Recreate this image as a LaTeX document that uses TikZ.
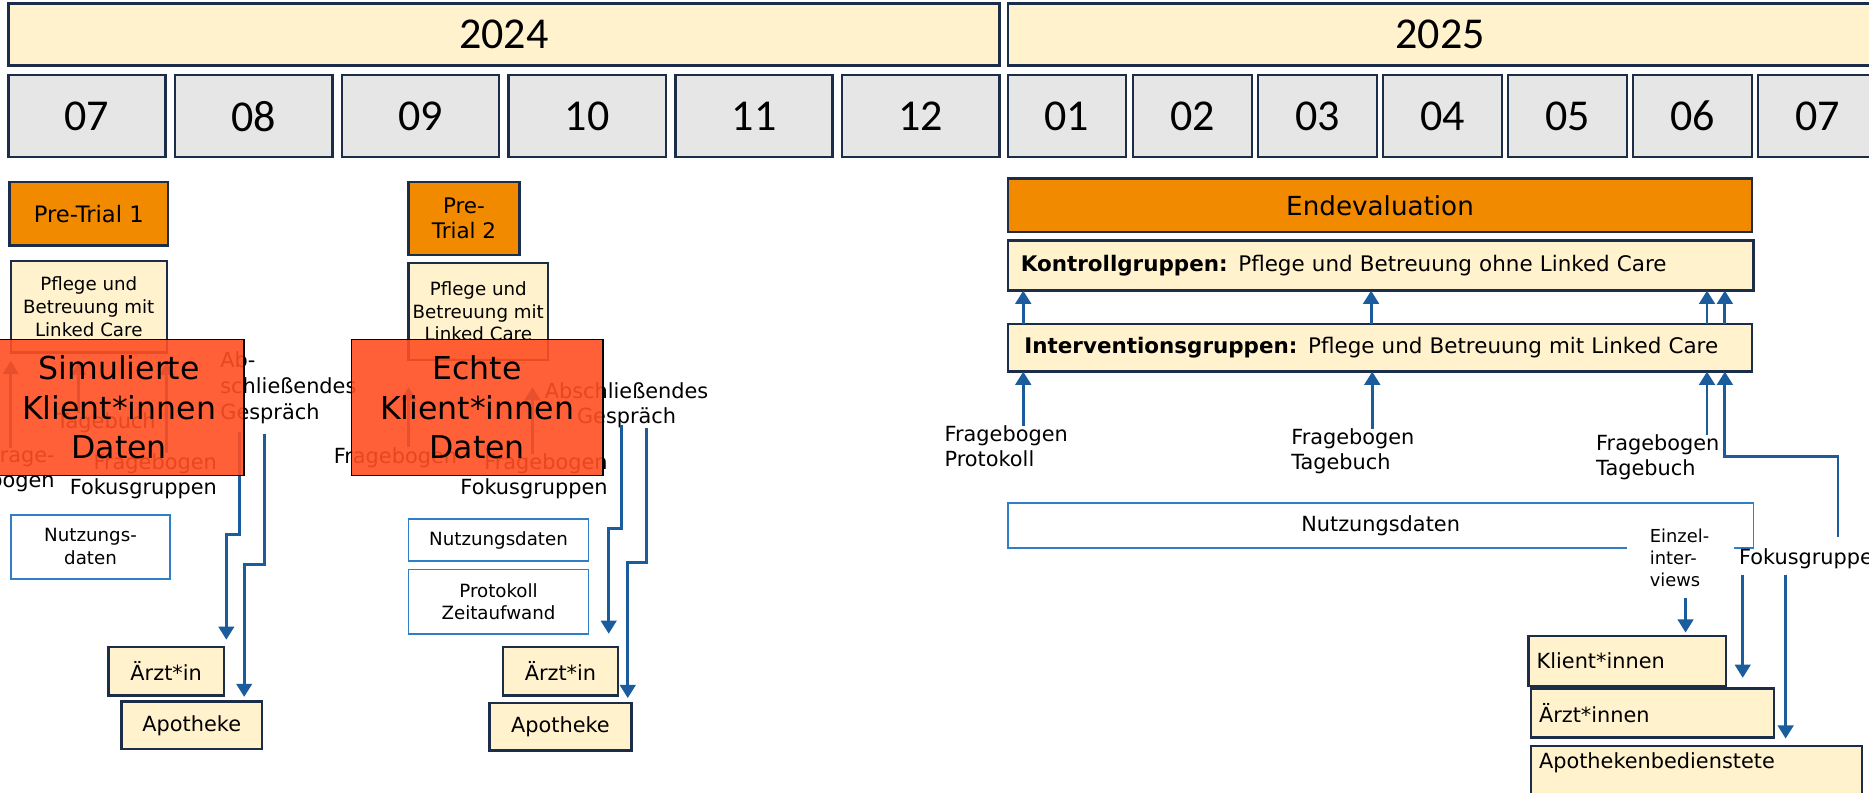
\documentclass[tikz,border=0pt]{standalone}
\usepackage{fontspec}
\setmainfont{DejaVu Sans}
\newfontfamily\carl{Carlito}
\usetikzlibrary{arrows.meta,calc}
\definecolor{navy}{HTML}{1C2D4A}
\definecolor{lyel}{HTML}{FFF2CC}
\definecolor{lgrey}{HTML}{E6E6E6}
\definecolor{orng}{HTML}{F28A00}
\definecolor{redb}{HTML}{FF4F22}
\definecolor{blu}{HTML}{1A5C9C}
\definecolor{blub}{HTML}{2F7EC6}
\newcommand\fbody{\fontsize{17.5}{21}\selectfont}
\newcommand\fsm{\fontsize{15.3}{19}\selectfont}
\newcommand\fbig{\fontsize{26.5}{33}\selectfont}
\newcommand\fhd{\carl\fontsize{37}{40}\selectfont}
\begin{document}
\begin{tikzpicture}[x=1pt,y=-1pt,
  nbox/.style={draw=navy,line width=2pt,inner sep=0pt,outer sep=0pt},
  yr/.style={nbox,fill=lyel,font=\fhd,minimum height=52pt},
  mon/.style={nbox,fill=lgrey,font=\fhd,minimum height=69pt},
  orb/.style={nbox,fill=orng,font=\fbody,align=center},
  ylb/.style={nbox,fill=lyel,font=\fbody,align=center},
  tbox/.style={draw=blub,line width=1.5pt,fill=white,inner sep=0pt,outer sep=0pt,font=\fsm,align=center},
  lab/.style={inner sep=0pt,outer sep=0pt,font=\fbody},
  arr/.style={draw=blu,line width=2.4pt,-{Triangle[length=11pt,width=13pt]}},
  redbox/.style={draw=black,line width=1.3pt,fill=redb,fill opacity=0.9,text opacity=1,draw opacity=1,font=\fbig,align=center,inner sep=0pt,outer sep=0pt}
]
\fill[white] (0,0) rectangle (1569,665);
\useasboundingbox (0,0) rectangle (1569,665);

% years
\node[yr,minimum width=832pt] (y24) at (423,29) {2024};
\node[yr,minimum width=726pt] (y25) at (1209,29) {2025};
% months
\node[mon,minimum width=132pt] (m07) at (73,97.5) {07};
\node[mon,minimum width=132pt] (m08) at (213,97.5) {08};
\node[mon,minimum width=132pt] (m09) at (353,97.5) {09};
\node[mon,minimum width=132pt] (m10) at (493,97.5) {10};
\node[mon,minimum width=132pt] (m11) at (633,97.5) {11};
\node[mon,minimum width=132pt] (m12) at (773,97.5) {12};
\node[mon,minimum width=99pt] (n01) at (895.5,97.5) {01};
\node[mon,minimum width=100pt] (n02) at (1001,97.5) {02};
\node[mon,minimum width=100pt] (n03) at (1106,97.5) {03};
\node[mon,minimum width=100pt] (n04) at (1211,97.5) {04};
\node[mon,minimum width=100pt] (n05) at (1316,97.5) {05};
\node[mon,minimum width=100pt] (n06) at (1421,97.5) {06};
\node[mon,minimum width=100pt] (n07) at (1526,97.5) {07};

% left section
\node[orb,font=\fontsize{19}{22}\selectfont,minimum width=133pt,minimum height=53pt] (pt1) at (74.5,179.5) {Pre-Trial 1};
\node[ylb,font=\fsm,minimum width=131pt,minimum height=77pt] (pf1) at (74.5,257.5) {Pflege und\\Betreuung mit\\Linked Care};
\node[tbox,minimum width=134pt,minimum height=54pt] (nu1) at (76,459) {Nutzungs-\\daten};
\node[ylb,minimum width=97pt,minimum height=41pt] (a1) at (139.5,563.5) {Ärzt*in};
\node[ylb,minimum width=118pt,minimum height=40pt] (p1) at (161,609) {Apotheke};

\node[lab,align=left,anchor=west] (l1) at (-9,394.5) {Frage-\\bogen};
\node[lab] (l2) at (89,355) {Tagebuch};
\node[lab,align=right,anchor=east] (l3) at (182,399.5) {Fragebogen\\Fokusgruppen};
\node[lab,align=left,anchor=west,font=\fontsize{17.5}{21.5}\selectfont] (l4) at (185,325.5) {Ab-\\schließendes\\Gespräch};

\draw[arr,shorten >=7pt] ([xshift=18pt]l1.north west) -- ([xshift=18pt]l1.north west |- pf1.south);
\draw[arr,shorten >=8pt] ([xshift=-23pt]l2.north) -- ([xshift=-23pt]l2.north |- pf1.south);
\draw[arr,shorten >=8pt] ([xshift=-42pt]l3.north east) -- ([xshift=-42pt]l3.north east |- pf1.south);

\coordinate (e1) at (201,363); \coordinate (e1b) at (190,449);
\coordinate (e2) at (222,364); \coordinate (e2b) at (205,474);
\draw[arr,shorten >=6pt] (e1) |- (e1b) -- (e1b |- a1.north);
\draw[arr,shorten >=4pt] (e2) |- (e2b) -- (e2b |- p1.north);

% middle section
\node[orb,font=\fontsize{18}{21}\selectfont,minimum width=93pt,minimum height=61pt] (pt2) at (389.5,183.5) {Pre-\\Trial 2};
\node[ylb,font=\fsm,minimum width=117pt,minimum height=81pt] (pf2) at (401.5,261.5) {Pflege und\\Betreuung mit\\Linked Care};
\node[tbox,minimum width=151pt,minimum height=35pt] (nu2) at (418.5,453.5) {Nutzungsdaten};
\node[tbox,minimum width=151pt,minimum height=54pt] (pz) at (418.5,505) {Protokoll\\Zeitaufwand};
\node[ylb,minimum width=97pt,minimum height=41pt] (a2) at (470.5,563.5) {Ärzt*in};
\node[ylb,minimum width=119pt,minimum height=40pt] (p2) at (470.5,610) {Apotheke};

\node[lab] (l5) at (332,384) {Fragebogen};
\node[lab,align=right,anchor=east] (l6) at (510,400) {Fragebogen\\Fokusgruppen};
\node[lab,align=center] (l7) at (526,340) {Abschließendes\\Gespräch};

\draw[arr,shorten >=23pt] (l5.north -| pf2.west) -- (pf2.south west);
\draw[arr,shorten >=23pt] ([xshift=-63pt]l6.north east) -- ([xshift=-63pt]l6.north east |- pf2.south);

\coordinate (e3) at (522,357); \coordinate (e3b) at (511,444);
\coordinate (e4) at (543,359); \coordinate (e4b) at (527,472);
\draw[arr,shorten >=11pt] (e3) |- (e3b) -- (e3b |- a2.north);
\draw[arr,shorten >=4pt] (e4) |- (e4b) -- (e4b |- p2.north);

% right section
\node[orb,font=\fontsize{22}{26}\selectfont,minimum width=625pt,minimum height=45pt] (end) at (1158.5,172.5) {Endevaluation};
\node[ylb,font=\fontsize{18}{21}\selectfont,minimum width=626pt,minimum height=42pt,inner xsep=11pt,text width=604pt,align=left] (kon) at (1159,223) {\textbf{Kontrollgruppen:} Pflege und Betreuung ohne Linked Care};
\node[ylb,font=\fontsize{18}{21}\selectfont,minimum width=625pt,minimum height=40pt,inner xsep=14pt,text width=597pt,align=left] (int) at (1158.5,292) {\textbf{Interventionsgruppen:} Pflege und Betreuung mit Linked Care};
\node[tbox,font=\fbody,minimum width=626pt,minimum height=38pt] (nu3) at (1159,441) {Nutzungsdaten};

\node[lab,align=left,anchor=west] (r1) at (793,374.5) {Fragebogen\\Protokoll};
\node[lab,align=left,anchor=west] (r2) at (1084,379) {Fragebogen\\Tagebuch};
\node[lab,align=left,anchor=west] (r3) at (1340,384) {Fragebogen\\Tagebuch};
\node[lab,font=\fontsize{15}{18.5}\selectfont,align=left,fill=white,text width=52pt,inner xsep=19pt,inner ysep=3pt] (ez) at (1411,468) {Einzel-\\inter-\\views};
\node[lab,anchor=west] (fk) at (1460,469) {Fokusgruppen};

\node[ylb,minimum width=166pt,minimum height=42pt,inner xsep=7pt,text width=152pt,align=left] (kl) at (1366,555) {Klient*innen};
\node[ylb,minimum width=204pt,minimum height=41pt,inner xsep=7pt,text width=190pt,align=left] (ar) at (1387,598.5) {Ärzt*innen};
\node[ylb,anchor=north west,inner xsep=7pt,inner ysep=6pt,text width=264pt,align=left,text depth=60pt] (apb) at (1285,626) {Apothekenbedienstete};

\draw[arr] ([xshift=13pt]int.north west) -- ([xshift=13pt]int.north west |- kon.south);
\draw[arr] ([xshift=305pt]int.north west) -- ([xshift=305pt]int.north west |- kon.south);
\draw[arr] ([xshift=587pt]int.north west) -- ([xshift=587pt]int.north west |- kon.south);
\draw[arr] ([xshift=602pt]int.north west) -- ([xshift=602pt]int.north west |- kon.south);

\draw[arr] ([xshift=66pt]r1.north west) -- ([xshift=66pt]r1.north west |- int.south);
\draw[arr] ([xshift=68pt]r2.north west) -- ([xshift=68pt]r2.north west |- int.south);
\draw[arr] ([xshift=93pt]r3.north west) -- ([xshift=93pt]r3.north west |- int.south);
\coordinate (k1) at (1543,451); \coordinate (k2) at (1448,383);
\draw[arr] (k1) |- (k2) -- (k2 |- int.south);

\draw[arr,shorten <=7pt,shorten >=3pt] ([xshift=4pt]ez.south) -- ([xshift=4pt]ez.south |- kl.north);
\draw[arr,shorten <=5pt,shorten >=9pt] ([xshift=3pt]fk.south west) -- ([xshift=3pt]fk.south west |- ar.north);
\draw[arr,shorten <=5pt,shorten >=6pt] ([xshift=39pt]fk.south west) -- ([xshift=39pt]fk.south west |- apb.north);

% red overlay boxes
\node[redbox,minimum width=210pt,minimum height=114pt] (rd1) at (100,342) {Simulierte\\Klient*innen\\Daten};
\node[redbox,minimum width=211pt,minimum height=114pt] (rd2) at (400.5,342) {Echte\\Klient*innen\\Daten};
\end{tikzpicture}
\end{document}
